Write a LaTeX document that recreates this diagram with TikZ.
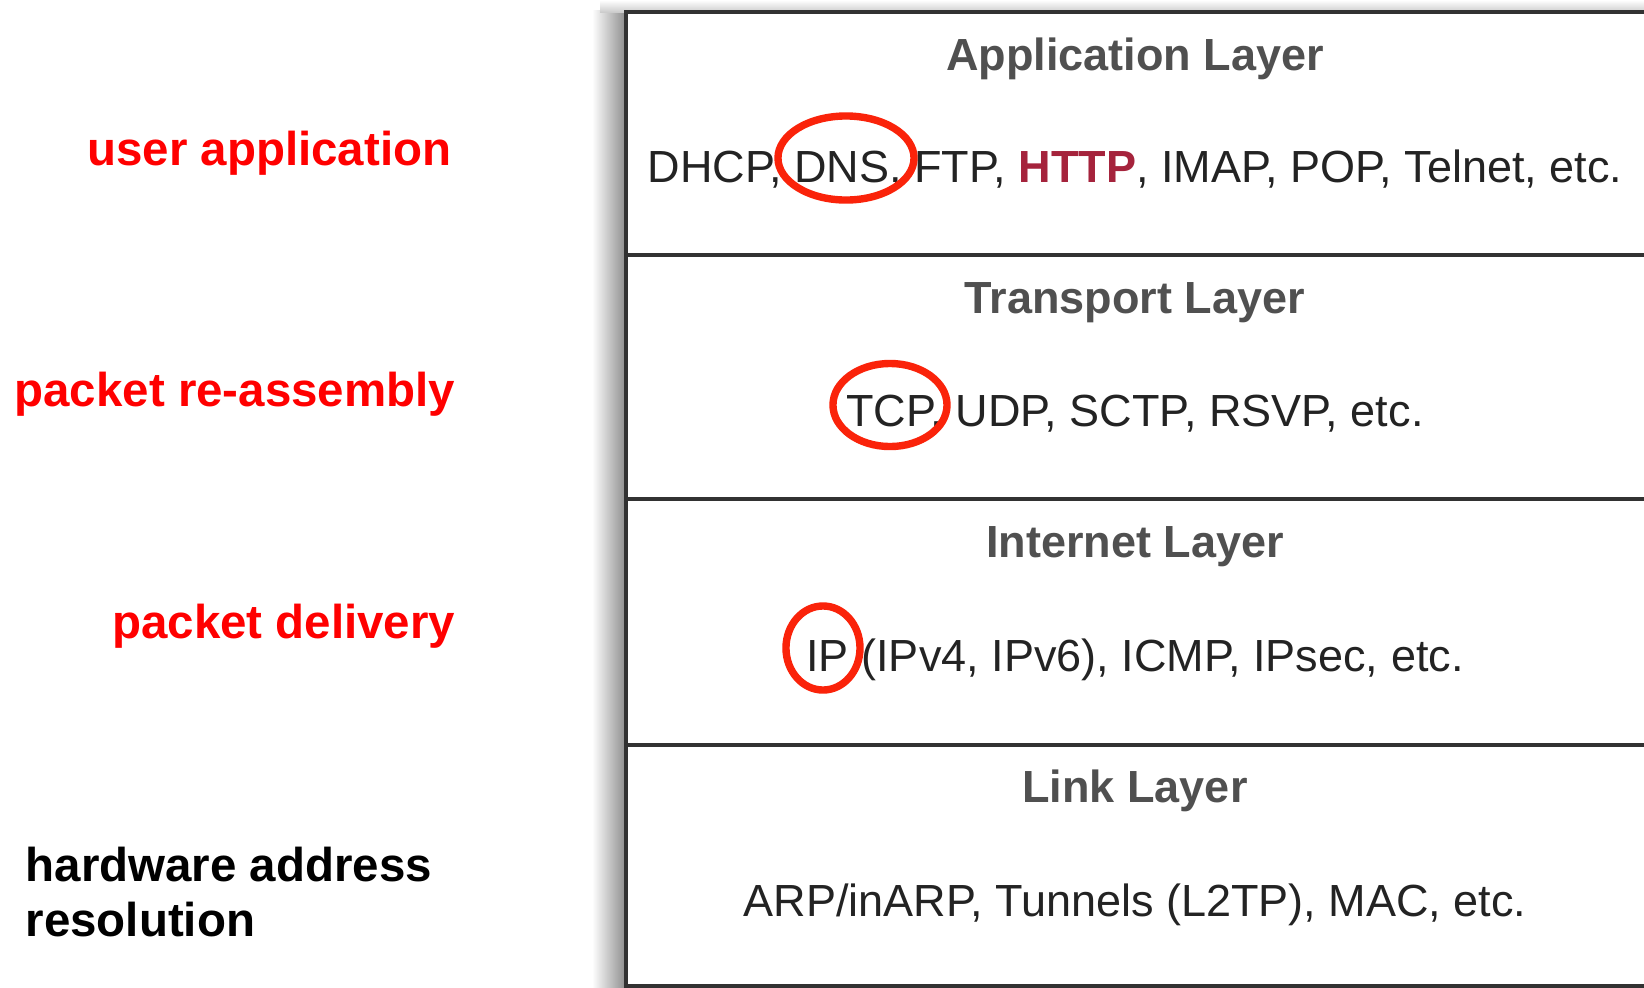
\documentclass[tikz,border=0pt]{standalone}
\usepackage{fontspec}
\setmainfont{Liberation Sans}
\usetikzlibrary{positioning}

\definecolor{labelred}{RGB}{255,0,0}
\definecolor{ringred}{RGB}{250,35,10}
\definecolor{httpred}{RGB}{165,35,60}
\definecolor{titlegray}{RGB}{80,80,80}
\definecolor{protogray}{RGB}{35,35,35}
\definecolor{edgegray}{RGB}{50,50,50}

\tikzset{
  layertitle/.style={font=\fontsize{12.8}{15}\selectfont\bfseries, text=titlegray, anchor=base, inner sep=0pt},
  protoline/.style={font=\fontsize{12.8}{15}\selectfont, text=protogray, anchor=base, inner sep=0pt},
  rolelabel/.style={font=\fontsize{13.5}{15.9}\selectfont\bfseries, text=labelred, anchor=base east, inner sep=0pt},
  ring/.style={draw=ringred, line width=2.1pt},
  layerline/.style={draw=edgegray, line width=0.9pt},
}

\begin{document}
\begin{tikzpicture}[x=0.01cm, y=-0.01cm]
        \clip (0,0) rectangle (1644,987);
        \fill[white] (0,0) rectangle (1644,987);

        % Ombra
        \shade[left color=white, right color=black!45] (592,10) rectangle (626,987);
        \shade[top color=white, bottom color=black!20] (600,0) rectangle (1644,12);

        % Pila dei livelli
        \draw[layerline] (1660,12) -- (626,12) -- (626,995);
        \foreach \y in {255, 499, 745, 986}
            \draw[layerline] (626,\y) -- (1660,\y);

        % Titoli e protocolli
        \node[layertitle] (apptitle) at (1135,70) {Application Layer};
        \node[protoline] (appproto) at (1135,182) {DHCP, DNS, FTP, \textcolor{httpred}{\textbf{HTTP}}, IMAP, POP, Telnet, etc.};
        \node[layertitle] (transtitle) at (1135,313) {Transport Layer};
        \node[protoline] (transproto) at (1135,426) {TCP, UDP, SCTP, RSVP, etc.};
        \node[layertitle] (nettitle) at (1135,557) {Internet Layer};
        \node[protoline] (netproto) at (1135,671) {IP (IPv4, IPv6), ICMP, IPsec, etc.};
        \node[layertitle] (linktitle) at (1135,802) {Link Layer};
        \node[protoline] (linkproto) at (1135,916) {ARP/inARP, Tunnels (L2TP), MAC, etc.};

        % Cerchi rossi
        \draw[ring] (846,158) ellipse [x radius=0.68cm, y radius=0.42cm];
        \draw[ring] (890,405) ellipse [x radius=0.57cm, y radius=0.415cm];
        \draw[ring] (823,648) ellipse [x radius=0.37cm, y radius=0.42cm];

        % Ruoli
        \node[rolelabel] (userapp) at (452,165) {user application};
        \node[rolelabel] (reassembly) at (456,406) {packet re-assembly};
        \node[rolelabel] (delivery) at (456,638) {packet delivery};
        \node[font=\fontsize{13.5}{15.9}\selectfont\bfseries, align=left, anchor=west, inner sep=0pt] (hwaddr) at (25,892) {hardware address\\resolution};

    \end{tikzpicture}
\end{document}
